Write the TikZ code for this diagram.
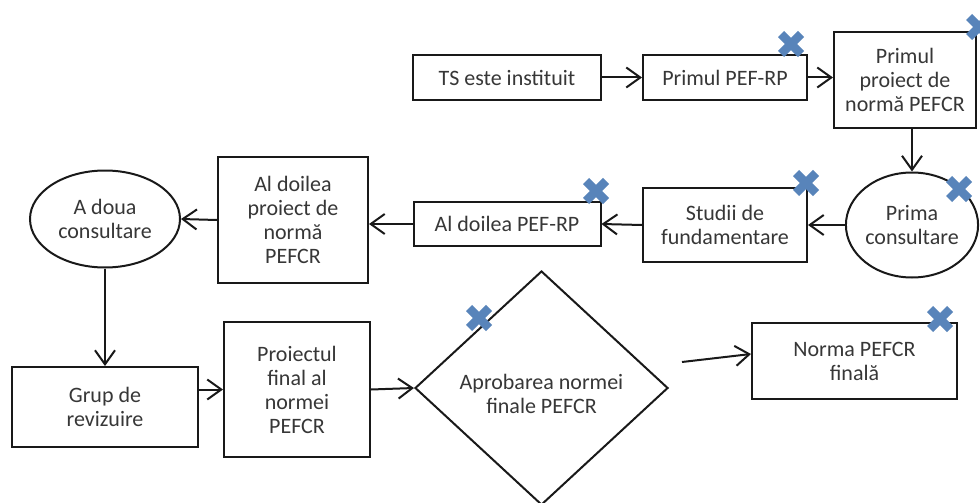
\documentclass[tikz,border=0pt]{standalone}
\usepackage{fontspec}
\setmainfont{Carlito}
\usetikzlibrary{shapes.geometric,arrows.meta}
\definecolor{linec}{RGB}{25,25,25}
\definecolor{textc}{RGB}{55,55,55}
\definecolor{xcol}{RGB}{88,132,186}
\tikzset{
  box/.style={draw=linec, line width=2pt, fill=white, inner sep=0pt, align=center,
    text=textc, font=\fontsize{22}{24}\selectfont},
  ell/.style={box, ellipse},
  dia/.style={box, diamond},
  arr/.style={draw=linec, line width=2pt,
    -{Straight Barb[length=14pt,width=20pt,line width=2pt]}},
  xmark/.pic={\draw[xcol, line width=8.5pt] (-10,-10) -- (10,10) (-10,10) -- (10,-10);}
}
\begin{document}
\begin{tikzpicture}[x=1pt,y=-1pt]
\useasboundingbox (0,0) rectangle (980,503);
% top row
\node[box, minimum width=188pt, minimum height=45pt] (ts) at (507,77.5) {TS este instituit};
\node[box, minimum width=164pt, minimum height=45pt] (pef) at (725,77.5) {Primul PEF-RP};
\node[box, minimum width=142pt, minimum height=96pt] (primul) at (905,80) {Primul\\proiect de\\normă PEFCR};
% middle row
\node[ell, minimum width=125pt, minimum height=105pt] (prima) at (912,225) {Prima\\consultare};
\node[box, minimum width=164pt, minimum height=74pt] (studii) at (725,225) {Studii de\\fundamentare};
\node[box, minimum width=187pt, minimum height=44pt] (alpef) at (507,224) {Al doilea PEF-RP};
\node[box, minimum width=150pt, minimum height=126pt] (alproiect) at (293,220) {Al doilea\\proiect de\\normă\\PEFCR};
\node[ell, minimum width=150pt, minimum height=97pt] (adoua) at (105,219) {A doua\\consultare};
% bottom row
\node[box, minimum width=186pt, minimum height=80pt] (grup) at (105,407) {Grup de\\revizuire};
\node[box, minimum width=146pt, minimum height=135pt] (proiectul) at (297,389.5) {Proiectul\\final al\\normei\\PEFCR};
\node[dia, minimum width=253pt, minimum height=234pt] (aprob) at (541.5,388) {};
\node[text=textc, font=\fontsize{22}{24}\selectfont, align=center, inner sep=0pt] (aprobtxt) at (541.5,394) {Aprobarea normei\\finale PEFCR};
\node[box, minimum width=205pt, minimum height=76pt] (norma) at (854.5,361) {Norma PEFCR\\finală};
\coordinate (free) at (682,362);
% connectors
\draw[arr] (ts.east) -- (pef.west);
\draw[arr] (pef.east) -- (pef.east -| primul.west);
\draw[arr] (primul.south -| prima.north) -- (prima.north);
\draw[arr] (prima.west) -- (studii.east);
\draw[arr] (studii.west) -- (alpef.east);
\draw[arr] (alpef.west) -- (alpef.west -| alproiect.east);
\draw[arr] (alproiect.west) -- (adoua.east);
\draw[arr] (adoua.south) -- (grup.north);
\draw[arr] (proiectul.west -| grup.east) -- (proiectul.west);
\draw[arr] (proiectul.east) -- (aprob.west);
\draw[arr] (free) -- ([yshift=7pt]norma.west);
% marks
\pic at (791,44) {xmark};
\pic at (979,27) {xmark};
\pic at (596,191) {xmark};
\pic at (806,183) {xmark};
\pic at (959,189) {xmark};
\pic at (479,318) {xmark};
\pic at (940,319) {xmark};
\end{tikzpicture}
\end{document}
